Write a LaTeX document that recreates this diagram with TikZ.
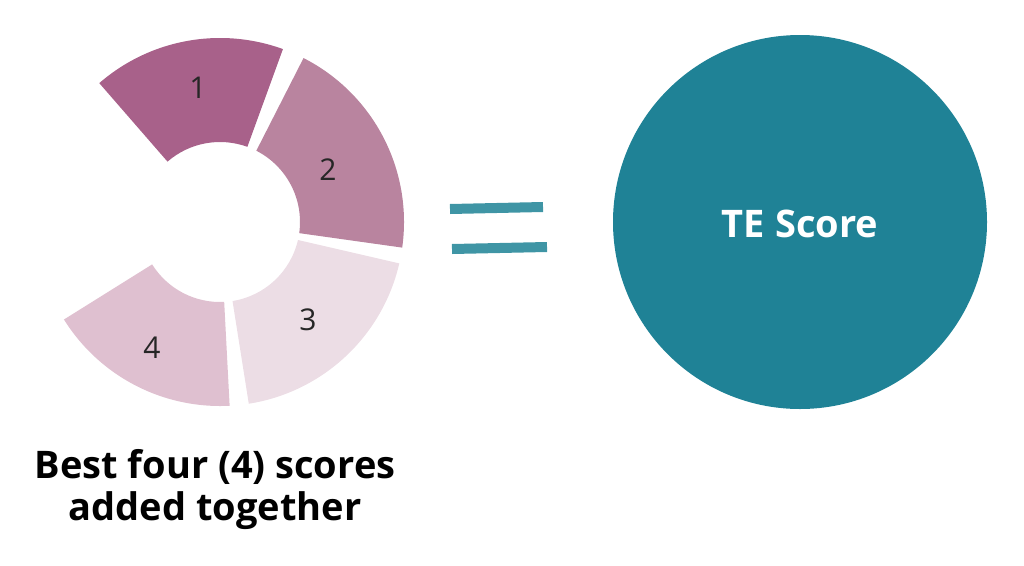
\documentclass[tikz,border=0pt]{standalone}
\usepackage{fontspec}
\setmainfont{Open Sans}
\definecolor{segone}{HTML}{A8618A}
\definecolor{segtwo}{HTML}{B9849F}
\definecolor{segthree}{HTML}{ECDDE5}
\definecolor{segfour}{HTML}{DFC0D0}
\definecolor{teal}{HTML}{1F8296}
\definecolor{brush}{HTML}{3F95A5}
\newcommand{\ringpart}[3]{%
  \fill [#3] (#1:184) arc (#1:#2:184) -- (#2:80) arc (#2:#1:80) -- cycle;}
\begin{document}
\begin{tikzpicture}[x=1pt,y=1pt,
  digit/.style={font=\fontsize{30}{30}\selectfont, text=black!85},
  caption/.style={font=\fontsize{38}{42}\selectfont\bfseries, align=center}]
\useasboundingbox (0,0) rectangle (1024,-565);
%% ring of the four scores
\begin{scope}[shift={(220,-222)}]
\ringpart{70}{131}{segone}
\ringpart{63}{-8}{segtwo}
\ringpart{-13}{-81}{segthree}
\ringpart{-87}{-148}{segfour}
\end{scope}
\node [digit] (one) at (198,-88) {1};
\node [digit] (two) at (328,-170) {2};
\node [digit] (three) at (308,-320) {3};
\node [digit] (four) at (152,-348) {4};
\node [caption] (label) at (215,-490) {Best four (4) scores\\added together};
%% equals sign
\draw [brush, line width=10pt] (450,-209) -- (543,-207);
\draw [brush, line width=10pt] (452,-249) -- (547,-247);
%% result
\fill [teal] (800,-222) circle (187);
\node [font=\fontsize{38}{38}\selectfont\bfseries, text=white] (te) at (800,-224) {TE Score};
\end{tikzpicture}
\end{document}
